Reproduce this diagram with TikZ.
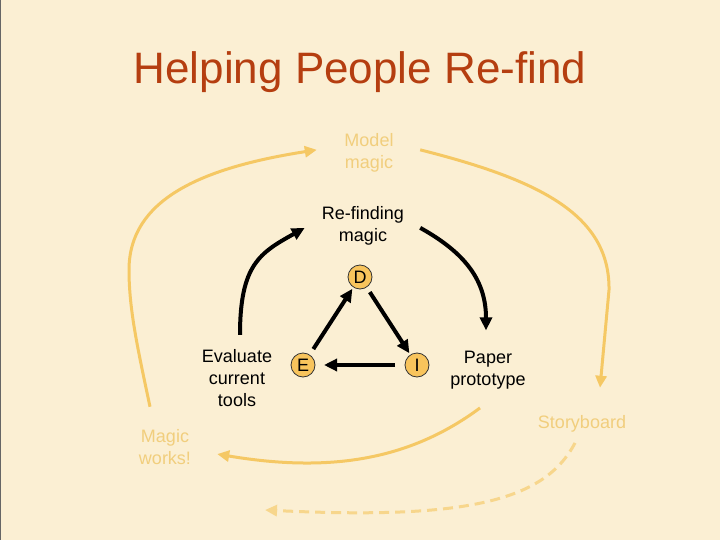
\documentclass[tikz,border=0pt]{standalone}
\usepackage{fontspec}
\setmainfont{Liberation Sans}
\usetikzlibrary{arrows.meta}
\definecolor{paper}{RGB}{251,239,211}
\definecolor{titlered}{RGB}{181,62,16}
\definecolor{gold}{RGB}{245,200,100}
\definecolor{palegold}{RGB}{241,206,125}
\definecolor{dashgold}{RGB}{247,214,140}
\definecolor{dotfill}{RGB}{248,196,92}
\tikzset{
  txt/.style={font=\fontsize{18}{22}\selectfont, align=center, anchor=base, inner sep=0pt},
  dimtxt/.style={txt, text=palegold},
  stage/.style={circle, draw=black!80, line width=0.8pt, fill=dotfill, minimum size=24pt,
    inner sep=0pt, outer sep=0pt, font=\fontsize{18}{22}\selectfont},
  cyc/.style={line width=4pt, -{Triangle[length=13pt,width=12pt]}},
  goldarrow/.style={draw=gold, line width=3pt, -{Triangle[length=12pt,width=11pt]}},
  dasharrow/.style={draw=dashgold, line width=3pt, dash pattern=on 10pt off 6pt,
    -{Triangle[length=12pt,width=11pt]}},
}

\begin{document}
\begin{tikzpicture}[x=1pt,y=-1pt]
    %%%%% BACKGROUND %%%%%
    \fill[paper] (0,0) rectangle (720,540);
    \useasboundingbox (0,0) rectangle (720,540);
    \draw[black!60, line width=1pt] (0.5,0) -- (0.5,540);

    \node[font=\fontsize{44}{50}\selectfont, text=titlered, anchor=base, inner sep=0pt]
      (title) at (360,84) {Helping People Re-find};

    %%%%% LABELS (placed by last baseline) %%%%%
    \node[dimtxt] (model) at (369,169) {Model\\magic};
    \node[txt] (refind) at (363,241) {Re-finding\\magic};
    \node[txt] (evaluate) at (237,406) {Evaluate\\current\\tools};
    \node[txt] (paper) at (488,385) {Paper\\prototype};
    \node[dimtxt] (works) at (165,464) {Magic\\works!};
    \node[dimtxt] (story) at (582,428) {Storyboard};

    %%%%% D-I-E CYCLE %%%%%
    \node[stage] (d) at (360,277) {D};
    \node[stage] (e) at (303,365) {E};
    \node[stage] (i) at (417,365) {I};

    \draw[cyc, shorten <=7pt, shorten >=2pt] (e) -- (d);
    \draw[cyc, shorten <=6pt, shorten >=2pt] (d) -- (i);
    \draw[cyc, shorten <=10pt, shorten >=9pt] (i) -- (e);

    \draw[cyc] ([xshift=3pt,yshift=14pt]evaluate.north) .. controls +(0,-70) and +(-45,25) .. ([xshift=-17pt,yshift=-2.5pt]refind.west);
    \draw[cyc] ([xshift=16pt,yshift=-2.5pt]refind.east) .. controls +(45,25) and +(0,-50) .. ([xshift=-2pt,yshift=20pt]paper.north);

    %%%%% OUTER LOOP %%%%%
    \draw[goldarrow] ([xshift=-15pt,yshift=22pt]works.north) .. controls (138,350) and (129,310) .. (129,270)
      .. controls (129,200) and (200,168) .. ([xshift=-27.5pt,yshift=3.5pt]model.west);
    \draw[goldarrow] ([xshift=26.5pt,yshift=3.5pt]model.east) .. controls (540,180) and (610,215) .. (609,290)
      -- ([xshift=18pt,yshift=27pt]story.north);
    \draw[goldarrow] ([xshift=-8pt,yshift=-19pt]paper.south) .. controls +(-70,52) and +(113,19) .. ([xshift=26pt,yshift=-7.5pt]works.east);

    \coordinate (onward) at (265,510);
    \draw[dasharrow] ([xshift=-7pt,yshift=-11pt]story.south) .. controls +(-30,57) and +(205,10) .. (onward);
\end{tikzpicture}
\end{document}
